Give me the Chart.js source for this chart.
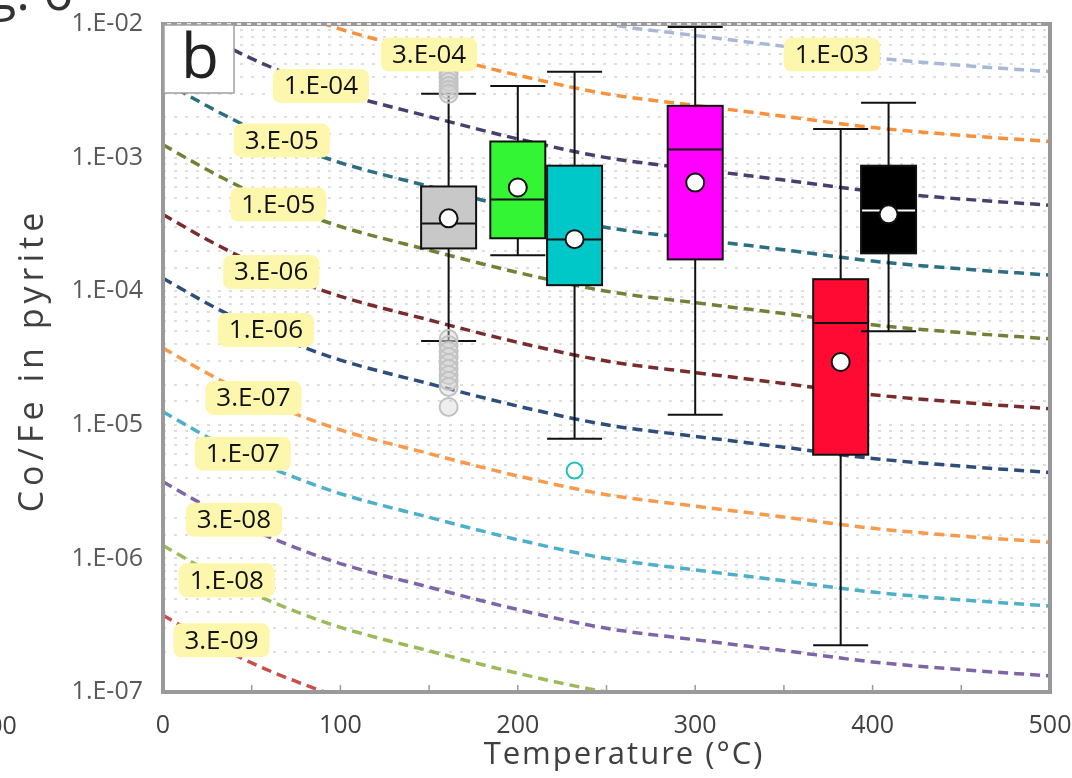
<!DOCTYPE html>
<html>
<head>
<meta charset="utf-8">
<script src="https://cdn.jsdelivr.net/npm/chart.js@4.4.1/dist/chart.umd.min.js"></script>
<style>
  html, body { margin: 0; padding: 0; background: #fff; }
  #marco { position: relative; width: 1072px; height: 778px; overflow: hidden; }
  #grafica { position: absolute; left: 0; top: 0; }
  .corte { position: absolute; font-family: 'Open Sans', sans-serif; white-space: nowrap; }
</style>
</head>
<body>
<div id="marco">
  <canvas id="grafica" width="1072" height="778"></canvas>
  <div class="corte" style="left:-52px; top:-36px; font-size:52px; line-height:52px; color:#333;">Fig. 6</div>
  <div class="corte" style="left:-26px; top:712px; font-size:25px; line-height:25px; color:#404040;">500</div>
</div>
<script>
// DATOS: temperatura (°C) de los puntos de cada curva
const temperaturas = [0, 25, 50, 75, 100, 150, 200, 250, 300, 350, 400, 450, 500];

const etiquetasCurvas = ['1.E-03', '3.E-04', '1.E-04', '3.E-05', '1.E-05', '3.E-06',
                         '1.E-06', '3.E-07', '1.E-07', '3.E-08', '1.E-08', '3.E-09'];

const curva1E03 = [1.25e-1, 8.1e-2, 5.5e-2, 4.0e-2, 3.05e-2, 2.03e-2, 1.38e-2, 1.0e-2, 8.2e-3, 6.8e-3, 5.6e-3, 4.9e-3, 4.4e-3];
const curva3E04 = [3.75e-2, 2.43e-2, 1.65e-2, 1.2e-2, 9.15e-3, 6.09e-3, 4.14e-3, 3.0e-3, 2.46e-3, 2.04e-3, 1.68e-3, 1.47e-3, 1.32e-3];
const curva1E04 = [1.25e-2, 8.1e-3, 5.5e-3, 4.0e-3, 3.05e-3, 2.03e-3, 1.38e-3, 1.0e-3, 8.2e-4, 6.8e-4, 5.6e-4, 4.9e-4, 4.4e-4];
const curva3E05 = [3.75e-3, 2.43e-3, 1.65e-3, 1.2e-3, 9.15e-4, 6.09e-4, 4.14e-4, 3.0e-4, 2.46e-4, 2.04e-4, 1.68e-4, 1.47e-4, 1.32e-4];
const curva1E05 = [1.25e-3, 8.1e-4, 5.5e-4, 4.0e-4, 3.05e-4, 2.03e-4, 1.38e-4, 1.0e-4, 8.2e-5, 6.8e-5, 5.6e-5, 4.9e-5, 4.4e-5];
const curva3E06 = [3.75e-4, 2.43e-4, 1.65e-4, 1.2e-4, 9.15e-5, 6.09e-5, 4.14e-5, 3.0e-5, 2.46e-5, 2.04e-5, 1.68e-5, 1.47e-5, 1.32e-5];
const curva1E06 = [1.25e-4, 8.1e-5, 5.5e-5, 4.0e-5, 3.05e-5, 2.03e-5, 1.38e-5, 1.0e-5, 8.2e-6, 6.8e-6, 5.6e-6, 4.9e-6, 4.4e-6];
const curva3E07 = [3.75e-5, 2.43e-5, 1.65e-5, 1.2e-5, 9.15e-6, 6.09e-6, 4.14e-6, 3.0e-6, 2.46e-6, 2.04e-6, 1.68e-6, 1.47e-6, 1.32e-6];
const curva1E07 = [1.25e-5, 8.1e-6, 5.5e-6, 4.0e-6, 3.05e-6, 2.03e-6, 1.38e-6, 1.0e-6, 8.2e-7, 6.8e-7, 5.6e-7, 4.9e-7, 4.4e-7];
const curva3E08 = [3.75e-6, 2.43e-6, 1.65e-6, 1.2e-6, 9.15e-7, 6.09e-7, 4.14e-7, 3.0e-7, 2.46e-7, 2.04e-7, 1.68e-7, 1.47e-7, 1.32e-7];
const curva1E08 = [1.25e-6, 8.1e-7, 5.5e-7, 4.0e-7, 3.05e-7, 2.03e-7, 1.38e-7, 1.0e-7, 8.2e-8, 6.8e-8, 5.6e-8, 4.9e-8, 4.4e-8];
const curva3E09 = [3.75e-7, 2.43e-7, 1.65e-7, 1.2e-7, 9.15e-8, 6.09e-8, 4.14e-8, 3.0e-8, 2.46e-8, 2.04e-8, 1.68e-8, 1.47e-8, 1.32e-8];

// dónde va cada etiqueta amarilla (T, Co/Fe)
const etiquetaT = [377, 150, 89, 67, 65, 61, 58, 51, 45, 40, 36, 33];
const etiquetaV = [5.9e-3, 5.9e-3, 3.44e-3, 1.34e-3, 4.46e-4, 1.39e-4, 5.12e-5, 1.59e-5, 6.08e-6, 1.95e-6, 6.85e-7, 2.44e-7];

// DIAGRAMAS DE CAJA
const cajaT      = [161, 200, 232, 300, 382, 409];
const bigoteInf  = [4.24e-5, 1.86e-4, 7.87e-6, 1.19e-5, 2.24e-7, 5.02e-5];
const cuartil1   = [2.09e-4, 2.49e-4, 1.11e-4, 1.73e-4, 5.97e-6, 1.92e-4];
const mediana    = [3.21e-4, 4.86e-4, 2.44e-4, 1.15e-3, 5.77e-5, 4.02e-4];
const cuartil3   = [6.08e-4, 1.32e-3, 8.7e-4, 2.44e-3, 1.23e-4, 8.7e-4];
const bigoteSup  = [3.0e-3, 3.44e-3, 4.39e-3, 9.5e-3, 1.64e-3, 2.57e-3];
const medias     = [3.51e-4, 5.97e-4, 2.45e-4, 6.5e-4, 2.95e-5, 3.76e-4];

const atipicosGrisT = 161;
const atipicosGris = [4.24e-3, 3.95e-3, 3.69e-3, 3.44e-3, 3.22e-3, 3.0e-3,
                      4.38e-5, 3.96e-5, 3.57e-5, 3.22e-5, 2.9e-5, 2.62e-5, 2.36e-5, 2.13e-5, 1.92e-5, 1.36e-5];
const atipicosCianT = 232;
const atipicosCian = [4.54e-6];

// ESTILOS
const series = [curva1E03, curva3E04, curva1E04, curva3E05, curva1E05, curva3E06,
                curva1E06, curva3E07, curva1E07, curva3E08, curva1E08, curva3E09];
const coloresCurva = ['#a8b8d6', '#f7913c', '#4a3e6c', '#2b6f82', '#6f8336', '#7a2b2b',
                      '#2d4e7c', '#f79a4c', '#4bb0c8', '#8064a8', '#9bbb59', '#c8504c'];
const coloresCaja = ['#c8c8c8', '#33f533', '#00c8c8', '#ff00ff', '#ff0a32', '#000000'];
const coloresMediana = ['#111', '#111', '#111', '#111', '#111', '#ffffff'];
const ANCHO_CAJA = 55;
const FUENTE = "'Open Sans', sans-serif";

Chart.defaults.font.family = FUENTE;

// caja, bigotes y mediana (se dibujan encima de las curvas y debajo de los puntos)
const pluginCajas = {
    id: 'cajas',
    afterDatasetDraw(chart, args) {
        if (args.index !== 0) return;
        const ctx = chart.ctx, x = chart.scales.x, y = chart.scales.y, a = chart.chartArea;
        ctx.save();
        ctx.beginPath();
        ctx.rect(a.left, a.top, a.width, a.height);
        ctx.clip();
        cajaT.forEach((t, i) => {
            const cx = x.getPixelForValue(t);
            const l = cx - ANCHO_CAJA / 2, r = cx + ANCHO_CAJA / 2;
            const yMin = y.getPixelForValue(bigoteInf[i]);
            const yQ1 = y.getPixelForValue(cuartil1[i]);
            const yMed = y.getPixelForValue(mediana[i]);
            const yQ3 = y.getPixelForValue(cuartil3[i]);
            const yMax = y.getPixelForValue(bigoteSup[i]);
            ctx.strokeStyle = '#111';
            ctx.lineWidth = 2;
            ctx.beginPath();
            ctx.moveTo(cx, yMax); ctx.lineTo(cx, yQ3);
            ctx.moveTo(cx, yQ1); ctx.lineTo(cx, yMin);
            ctx.moveTo(l, yMax); ctx.lineTo(r, yMax);
            ctx.moveTo(l, yMin); ctx.lineTo(r, yMin);
            ctx.stroke();
            ctx.fillStyle = coloresCaja[i];
            ctx.fillRect(l, yQ3, ANCHO_CAJA, yQ1 - yQ3);
            ctx.strokeRect(l, yQ3, ANCHO_CAJA, yQ1 - yQ3);
            ctx.strokeStyle = coloresMediana[i];
            ctx.beginPath();
            ctx.moveTo(l + 1, yMed); ctx.lineTo(r - 1, yMed);
            ctx.stroke();
        });
        ctx.restore();
    }
};

// marco, panel "b", etiquetas amarillas y títulos de ejes
const pluginAdornos = {
    id: 'adornos',
    afterDatasetsDraw(chart) {
        const ctx = chart.ctx, x = chart.scales.x, y = chart.scales.y, a = chart.chartArea;
        ctx.save();

        // marco gris
        ctx.strokeStyle = '#9a9a9a';
        ctx.lineWidth = 4;
        ctx.strokeRect(a.left, a.top, a.width, a.height);
        ctx.strokeStyle = '#ffffff';
        ctx.lineWidth = 1.5;
        ctx.setLineDash([4, 6]);
        ctx.beginPath();
        ctx.moveTo(a.left + 4, a.top); ctx.lineTo(a.right - 4, a.top);
        ctx.stroke();
        ctx.setLineDash([]);

        // marcas pequeñas en el eje x
        ctx.strokeStyle = '#9a9a9a';
        ctx.lineWidth = 1.5;
        for (let t = 50; t < 500; t += 50) {
            const px = x.getPixelForValue(t);
            ctx.beginPath(); ctx.moveTo(px, a.bottom); ctx.lineTo(px, a.bottom - 7); ctx.stroke();
        }

        // recuadro "b"
        ctx.fillStyle = '#ffffff';
        ctx.fillRect(a.left + 1, a.top + 1, 70, 68);
        ctx.strokeStyle = '#a0a0a0';
        ctx.lineWidth = 1.5;
        ctx.strokeRect(a.left + 1, a.top + 1, 70, 68);
        ctx.fillStyle = '#222';
        ctx.font = '62px ' + FUENTE;
        ctx.textAlign = 'center';
        ctx.textBaseline = 'alphabetic';
        ctx.fillText('b', a.left + 37, a.top + 54);

        // etiquetas de las curvas
        ctx.font = '26px ' + FUENTE;
        ctx.textBaseline = 'middle';
        etiquetasCurvas.forEach((txt, i) => {
            const px = x.getPixelForValue(etiquetaT[i]);
            const py = y.getPixelForValue(etiquetaV[i]);
            const w = ctx.measureText(txt).width + 22, h = 34;
            ctx.fillStyle = '#fdf7ae';
            ctx.beginPath();
            ctx.roundRect(px - w / 2, py - h / 2, w, h, 8);
            ctx.fill();
            ctx.fillStyle = '#111';
            ctx.fillText(txt, px, py + 1);
        });

        // títulos
        ctx.fillStyle = '#404040';
        ctx.font = '31px ' + FUENTE;
        ctx.letterSpacing = '2px';
        ctx.fillText('Temperature (°C)', 624, 755);
        ctx.translate(33, 360);
        ctx.rotate(-Math.PI / 2);
        ctx.font = '34px ' + FUENTE;
        ctx.letterSpacing = '5px';
        ctx.fillText('Co/Fe in pyrite', 0, 0);
        ctx.restore();
    }
};

// CONJUNTOS DE DATOS
let conjuntos = series.map((serie, i) => ({
    label: etiquetasCurvas[i],
    data: temperaturas.map((t, j) => ({ x: t, y: serie[j] })),
    showLine: true,
    borderColor: coloresCurva[i],
    borderWidth: 3.5,
    borderDash: [10, 6],
    cubicInterpolationMode: 'monotone',
    pointRadius: 0,
    clip: 0,
    order: 2
}));

conjuntos.push({
    label: 'medias',
    data: cajaT.map((t, i) => ({ x: t, y: medias[i] })),
    pointRadius: 9,
    pointBackgroundColor: '#ffffff',
    pointBorderColor: '#111',
    pointBorderWidth: 2,
    order: 1
});
conjuntos.push({
    label: 'atípicos',
    data: atipicosGris.map(v => ({ x: atipicosGrisT, y: v })),
    pointRadius: 9,
    pointBackgroundColor: 'rgba(205,205,205,0.35)',
    pointBorderColor: '#c2c2c2',
    pointBorderWidth: 2,
    order: 1
});
conjuntos.push({
    label: 'atípico cian',
    data: atipicosCian.map(v => ({ x: atipicosCianT, y: v })),
    pointRadius: 8,
    pointBackgroundColor: '#ffffff',
    pointBorderColor: '#1fc0c0',
    pointBorderWidth: 2,
    order: 1
});

const miGrafica = new Chart(document.getElementById('grafica').getContext('2d'), {
    type: 'scatter',
    data: { datasets: conjuntos },
    plugins: [pluginCajas, pluginAdornos],
    options: {
        responsive: false,
        animation: false,
        layout: { padding: { top: 24, right: 22, bottom: 0, left: 0 } },
        plugins: { legend: { display: false }, tooltip: { enabled: false } },
        scales: {
            x: {
                type: 'linear',
                min: 0,
                max: 500,
                afterFit: s => { s.height = 86; s.paddingLeft = 0; s.paddingRight = 0; },
                grid: { display: false, drawTicks: false },
                border: { display: false },
                ticks: { stepSize: 100, padding: 19, color: '#404040', font: { size: 25 }, maxRotation: 0 }
            },
            y: {
                type: 'logarithmic',
                min: 1e-7,
                max: 1e-2,
                afterFit: s => { s.width = 163; s.paddingTop = 0; s.paddingBottom = 0; },
                grid: { color: '#dedede', lineWidth: 2, drawTicks: false },
                border: { display: false, dash: [3, 8] },
                ticks: {
                    autoSkip: false,
                    padding: 20,
                    color: '#595959',
                    font: { size: 25 },
                    callback: v => {
                        const e = Math.log10(v);
                        if (Math.abs(e - Math.round(e)) > 1e-6) return '';
                        return '1.E-' + String(-Math.round(e)).padStart(2, '0');
                    }
                }
            }
        }
    }
});
</script>
</body>
</html>
